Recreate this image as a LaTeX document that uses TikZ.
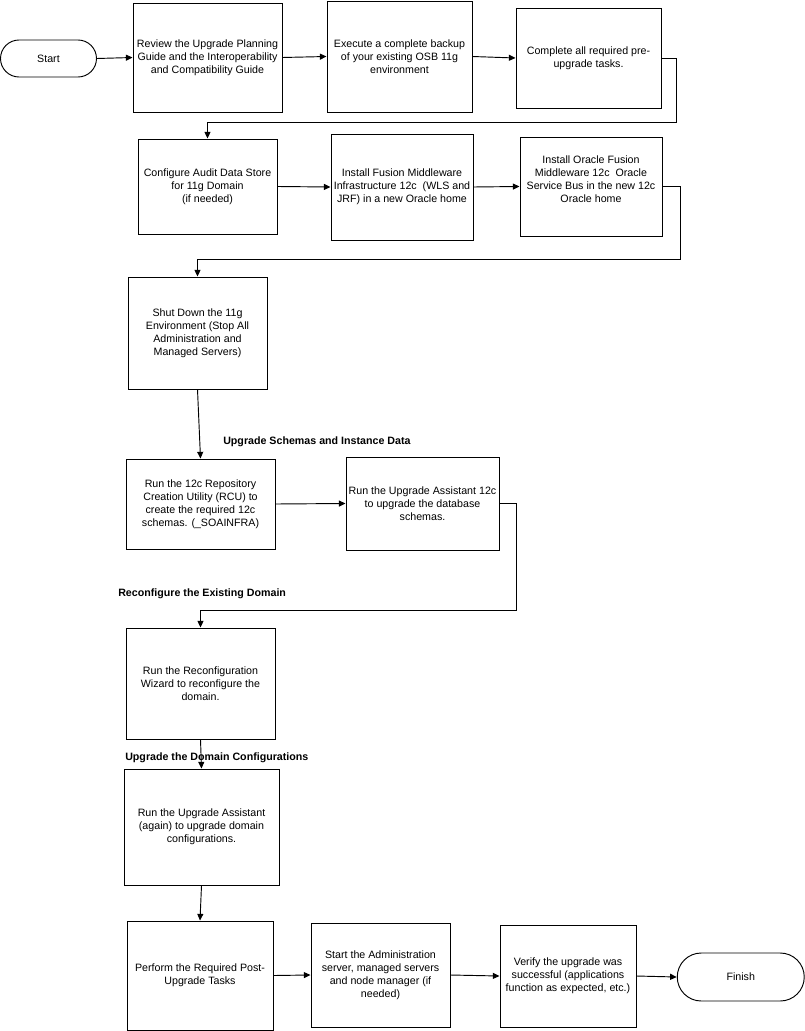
\documentclass[tikz,border=0pt]{standalone}
\usepackage{fontspec}
\setmainfont{Liberation Sans}
\usetikzlibrary{arrows.meta,shapes.misc}
\begin{document}
\begin{tikzpicture}[x=0.75pt,y=-0.75pt,
  font=\fontsize{8}{9.75}\selectfont,
  sz/.style 2 args={minimum width=#1*0.75pt, minimum height=#2*0.75pt},
  box/.style={draw, line width=0.7pt, rectangle, inner sep=0pt, align=center},
  term/.style={draw, line width=0.7pt, rounded rectangle, inner sep=0pt, align=center},
  arr/.style={draw, line width=0.7pt, -{Triangle[length=5pt,width=4.5pt]}},
  hdr/.style={font=\fontsize{8}{9.75}\selectfont\bfseries, anchor=west, inner sep=0pt}]
\useasboundingbox (0,0) rectangle (805,1031);

% row 1
\node[term, sz={96}{37}] (start) at (48.5,58.5) {Start};
\node[box, sz={149}{109}] (b1) at (207.5,57.5) {Review the Upgrade Planning\\Guide and the Interoperability\\and Compatibility Guide};
\node[box, sz={145}{111}] (b2) at (399.5,56.5) {Execute a complete backup\\of your existing OSB 11g\\environment};
\node[box, sz={145}{100}] (b3) at (588.5,58) {Complete all required pre-\\upgrade tasks.};

% row 2
\node[box, sz={139}{95}] (b4) at (207.5,186.5) {Configure Audit Data Store\\for 11g Domain\\(if needed)};
\node[box, sz={142}{106}] (b5) at (402,187) {Install Fusion Middleware\\Infrastructure 12c~ (WLS and\\JRF) in a new Oracle home};
\node[box, sz={142}{99}] (b6) at (591,186.5) {\begin{tabular}{@{}c@{}}Install Oracle Fusion\\Middleware 12c~ Oracle\\Service Bus in the new 12c\\Oracle home\\[9pt]\end{tabular}};

% column
\node[box, sz={139}{112}] (b7) at (197.5,333) {Shut Down the 11g\\Environment (Stop All\\Administration and\\Managed Servers)};
\node[box, sz={149}{90}] (b8) at (200.5,504) {Run the 12c Repository\\Creation Utility (RCU) to\\create the required 12c\\schemas. (\_SOAINFRA)};
\node[box, sz={153}{93}] (b9) at (422.5,503.5) {Run the Upgrade Assistant 12c\\to upgrade the database\\schemas.};
\node[box, sz={149}{111}] (b10) at (200.5,683.5) {Run the Reconfiguration\\Wizard to reconfigure the\\domain.};
\node[box, sz={155}{116}] (b11) at (201.5,827) {Run the Upgrade Assistant\\(again) to upgrade domain\\configurations.};

% bottom row
\node[box, sz={146}{109}] (b12) at (200,975.5) {Perform the Required Post-\\Upgrade Tasks};
\node[box, sz={139}{104}] (b13) at (380.5,975) {Start the Administration\\server, managed servers\\and node manager (if\\needed)};
\node[box, sz={136}{102}] (b14) at (568,976) {Verify the upgrade was\\successful (applications\\function as expected, etc.)};
\node[term, sz={127}{48}] (finish) at (740.75,977) {Finish};

% section headers
\node[hdr] (h1) at (223,442) {Upgrade Schemas and Instance Data};
\node[hdr] (h2) at (118,594) {Reconfigure the Existing Domain};
\node[hdr] (h3) at (125,758) {Upgrade the Domain Configurations};

% bend points
\coordinate (c1) at (676,122);
\coordinate (c2) at (680,259);
\coordinate (c3) at (516,610);

% connectors
\draw[arr] (start.east) -- (b1.west);
\draw[arr] (b1.east) -- (b2.west);
\draw[arr] (b2.east) -- (b3.west);
\draw[arr] (b3.east) -| (c1) -| (b4.north);
\draw[arr] (b4.east) -- (b5.west);
\draw[arr] (b5.east) -- (b6.west);
\draw[arr] (b6.east) -| (c2) -| (b7.north);
\draw[arr] (b7.south) -- (b8.north);
\draw[arr] (b8.east) -- (b9.west);
\draw[arr] (b9.east) -| (c3) -| (b10.north);
\draw[arr] (b10.south) -- (b11.north);
\draw[arr] (b11.south) -- (b12.north);
\draw[arr] (b12.east) -- (b13.west);
\draw[arr] (b13.east) -- (b14.west);
\draw[arr] (b14.east) -- (finish.west);
\end{tikzpicture}
\end{document}
